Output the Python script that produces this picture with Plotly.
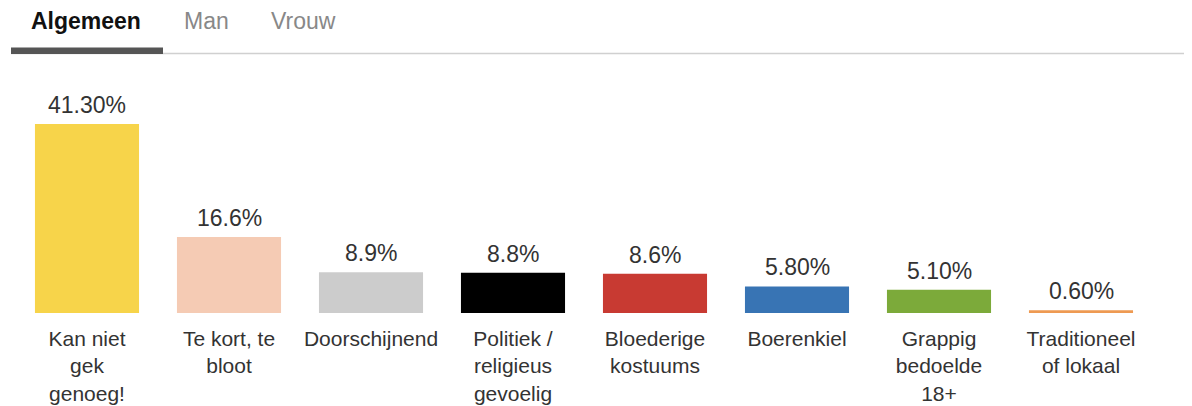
import plotly.graph_objects as go

categories = ["Kan niet<br>gek<br>genoeg!", "Te kort, te<br>bloot", "Doorschijnend",
              "Politiek /<br>religieus<br>gevoelig", "Bloederige<br>kostuums", "Boerenkiel",
              "Grappig<br>bedoelde<br>18+", "Traditioneel<br>of lokaal"]
values = [41.3, 16.6, 8.9, 8.8, 8.6, 5.8, 5.1, 0.6]
value_labels = ["41.30%", "16.6%", "8.9%", "8.8%", "8.6%", "5.80%", "5.10%", "0.60%"]
colors = ["#F7D44A", "#F5CBB4", "#CCCCCC", "#000000", "#C83A32", "#3874B4", "#7CAA3A", "#EE9A52"]
tabs = ["Algemeen", "Man", "Vrouw"]

FONT = "Liberation Sans, Arial, sans-serif"
TXT = "#333333"

OFF = 8  # default page body margin
W, H = 1192, 406
# target plot area in page pixels: x 16..1152, y 90..313
ML = 16 - OFF
MR = W - (1152 - OFF)
MT = 90 - OFF
MB = H - (313 - OFF)
pw = W - ML - MR
ph = H - MT - MB

def px(x):
    return (x - OFF - ML) / pw

def py(y):
    return (H - MB - (y - OFF)) / ph

fig = go.Figure(go.Bar(
    x=categories, y=values, marker=dict(color=colors, line=dict(width=0)),
    hoverinfo="skip",
))

for c, v, t in zip(categories, values, value_labels):
    fig.add_annotation(x=c, y=v, text=t, showarrow=False, yanchor="bottom",
                       yshift=4, font=dict(family=FONT, size=23, color=TXT))

tab_x = [29, 182, 269]
tab_colors = ["#111111", "#888888", "#888888"]
for i, t in enumerate(tabs):
    fig.add_annotation(xref="paper", yref="paper", x=px(tab_x[i]), y=py(21),
                       xanchor="left", yanchor="middle", showarrow=False,
                       text=f"<b>{t}</b>" if i == 0 else t,
                       font=dict(family=FONT, size=23, color=tab_colors[i]))

fig.add_shape(type="line", xref="paper", yref="paper", x0=px(11), x1=px(W + 20),
              y0=py(53.5), y1=py(53.5), line=dict(color="#D0D0D0", width=1.5))
fig.add_shape(type="rect", xref="paper", yref="paper", x0=px(11), x1=px(163),
              y0=py(54), y1=py(47.5), line=dict(width=0), fillcolor="#555555")

fig.update_layout(
    width=W, height=H,
    margin=dict(l=ML, r=MR, t=MT, b=MB, autoexpand=False),
    paper_bgcolor="white", plot_bgcolor="white",
    bargap=0.267, showlegend=False,
    font=dict(family=FONT, size=21, color=TXT),
)
fig.update_xaxes(showgrid=False, showline=False, zeroline=False, ticks="",
                 tickangle=0, automargin=False, ticklabelstandoff=11,
                 tickfont=dict(family=FONT, size=21, color=TXT))
fig.update_yaxes(range=[0, ph / 4.577], visible=False, showgrid=False, zeroline=False)

fig.write_html("out.html")
